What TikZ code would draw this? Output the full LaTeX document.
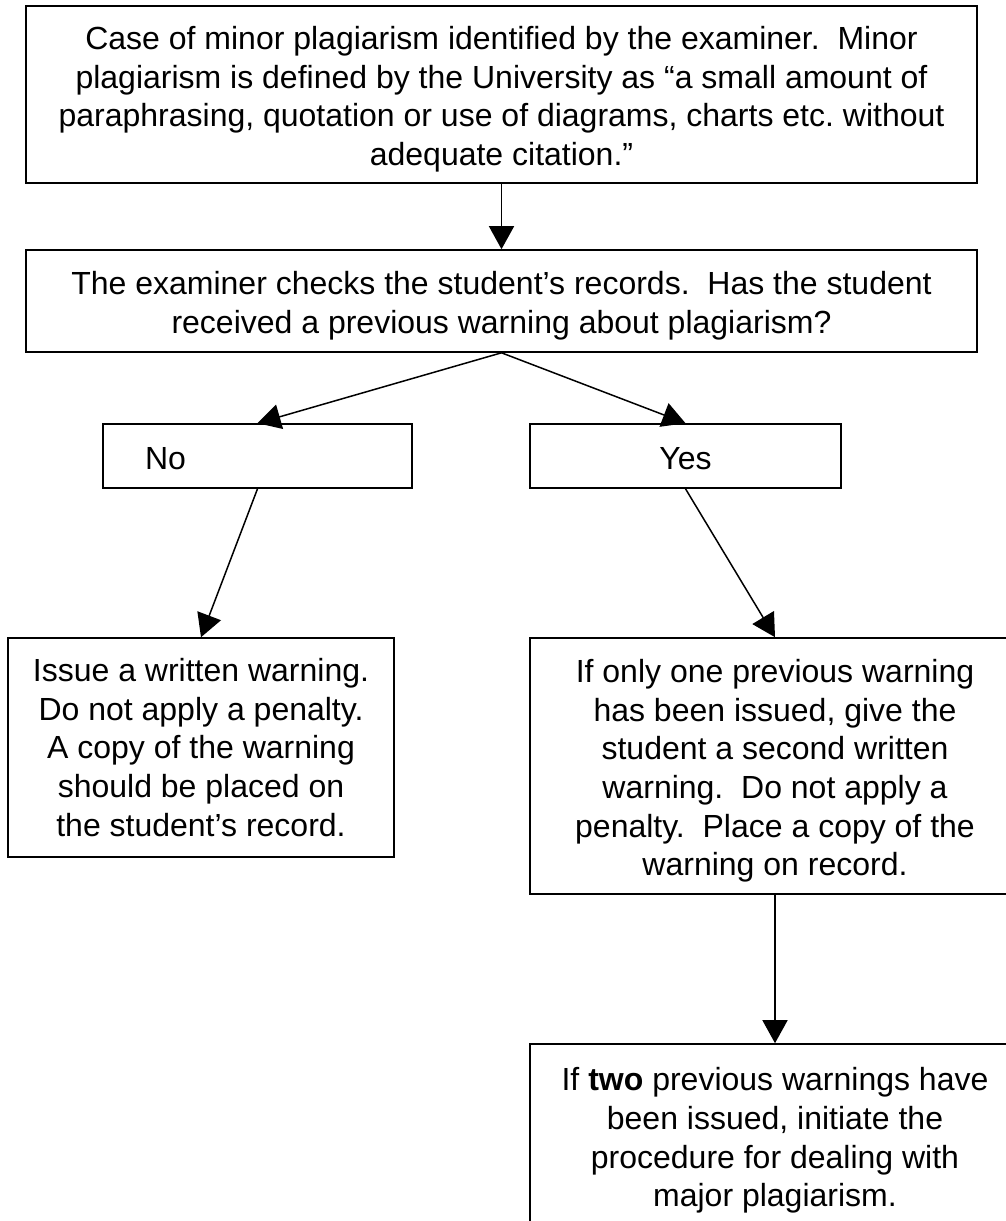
\documentclass[tikz,border=0pt]{standalone}
\usepackage{fontspec}
\setmainfont{Liberation Sans}
\usetikzlibrary{arrows.meta}

\newlength\pxu
\setlength\pxu{0.75pt}
\newcommand\topgap[1]{\rule{0pt}{#1\pxu}}

\tikzset{
	box/.style={draw, line width=1.6\pxu, rectangle, align=center, inner sep=0pt,
		font=\fontsize{32\pxu}{38.6\pxu}\selectfont\frenchspacing},
	flow/.style={-{Triangle[length=17.25pt,width=18.75pt]}, line width=1.5\pxu}
}

\begin{document}
\begin{tikzpicture}[x=\pxu, y=-\pxu]
		\useasboundingbox (0,0) rectangle (1006,1221);
		\clip (0,0) rectangle (1006,1221);
		
		\node[box, minimum width=951\pxu, minimum height=177\pxu] (case) at (501.5,94.5)
			{\topgap{33}Case of minor plagiarism identified by the examiner.\ \ Minor\\
			 plagiarism is defined by the University as ``a small amount of\\
			 paraphrasing, quotation or use of diagrams, charts etc. without\\
			 adequate citation.''};
		\node[box, minimum width=951\pxu, minimum height=102\pxu] (check) at (501.5,301)
			{\topgap{33}The examiner checks the student's records.\ \ Has the student\\
			 received a previous warning about plagiarism?};
		
		\node[box, align=left, text width=225\pxu, inner xsep=42\pxu, minimum height=64\pxu] (no) at (257.5,456) {\topgap{28}No};
		\node[box, minimum width=311\pxu, minimum height=64\pxu] (yes) at (685.5,456) {\topgap{28}Yes};
		
		\node[box, minimum width=386\pxu, minimum height=219\pxu] (issue) at (201,747.5)
			{Issue a written warning.\\ Do not apply a penalty.\\ A copy of the warning\\
			 should be placed on\\ the student's record.};
		\node[box, minimum width=490\pxu, minimum height=256\pxu] (once) at (775,766)
			{\topgap{33}If only one previous warning\\ has been issued, give the\\ student a second written\\
			 warning.\ \ Do not apply a\\ penalty.\ \ Place a copy of the\\ warning on record.};
		\node[box, minimum width=490\pxu, minimum height=193\pxu] (twice) at (775,1140.5)
			{If \textbf{two} previous warnings have\\ been issued, initiate the\\
			 procedure for dealing with\\ major plagiarism.};
		
		\draw[flow] (case.south) -- (check.north);
		\draw[flow] (check.south) -- (no.north);
		\draw[flow] (check.south) -- (yes.north);
		\draw[flow] (no.south) -- (issue.north);
		\draw[flow] (yes.south) -- (once.north);
		\draw[flow] (once.south) -- (twice.north);
	\end{tikzpicture}
\end{document}
